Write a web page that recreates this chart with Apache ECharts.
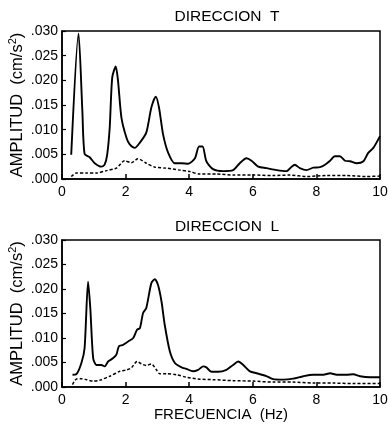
<!DOCTYPE html>
<html><head><meta charset="utf-8">
<script src="https://cdn.jsdelivr.net/npm/echarts@6/dist/echarts.min.js"></script>
<style>html,body{margin:0;padding:0;background:#fff}#c{width:389px;height:430px}</style>
</head><body><div id="c"></div>
<script>
// Dirección T — solid (top curve)
const tSolidF = [0.29,0.52,0.64,0.71,0.87,1.03,1.24,1.34,1.42,1.50,1.58,1.69,1.76,1.87,2.03,2.13,2.29,2.44,2.65,2.81,2.95,3.05,3.18,3.34,3.55,3.76,3.97,4.18,4.31,4.42,4.54,4.75,5.07,5.38,5.59,5.80,5.96,6.17,6.43,6.75,7.06,7.22,7.32,7.48,7.69,7.90,8.11,8.27,8.43,8.58,8.74,8.90,9.06,9.27,9.48,9.63,9.79,10.0];
const tSolidA = [0.0049,0.0295,0.0138,0.0051,0.0044,0.0032,0.0025,0.0029,0.0049,0.0104,0.0206,0.0228,0.0200,0.0124,0.0083,0.0070,0.0063,0.0073,0.0094,0.0145,0.0167,0.0145,0.0090,0.0053,0.0032,0.0032,0.0031,0.0042,0.0066,0.0066,0.0036,0.0020,0.0016,0.0018,0.0032,0.0042,0.0037,0.0025,0.0022,0.0018,0.0016,0.0025,0.0029,0.0022,0.0018,0.0023,0.0024,0.0029,0.0037,0.0046,0.0046,0.0037,0.0036,0.0032,0.0036,0.0053,0.0063,0.0087];
// Dirección T — dashed
const tDashF = [0.29,0.45,0.77,1.08,1.40,1.71,1.97,2.18,2.39,2.65,2.92,3.28,3.70,4.02,4.33,4.86,5.38,6.01,6.64,7.17,7.69,8.32,8.95,9.58,10.0];
const tDashA = [0.0005,0.0012,0.0012,0.0012,0.0017,0.0022,0.0037,0.0033,0.0041,0.0032,0.0024,0.0022,0.0018,0.0015,0.0010,0.0010,0.0008,0.0008,0.0007,0.0008,0.0005,0.0007,0.0007,0.0005,0.0006];
// Dirección L — solid
const lSolidF = [0.33,0.45,0.61,0.71,0.82,0.89,0.98,1.08,1.24,1.34,1.45,1.61,1.71,1.79,1.92,2.08,2.24,2.36,2.45,2.55,2.65,2.81,2.92,3.02,3.13,3.23,3.39,3.55,3.76,3.91,4.12,4.28,4.44,4.54,4.70,4.91,5.17,5.38,5.54,5.70,5.91,6.12,6.43,6.64,6.96,7.27,7.59,7.90,8.22,8.43,8.64,8.95,9.16,9.37,9.69,10.0];
const lSolidA = [0.0025,0.0026,0.0049,0.0079,0.0215,0.0161,0.0059,0.0045,0.0045,0.0042,0.0052,0.0059,0.0066,0.0083,0.0086,0.0093,0.0100,0.0117,0.0120,0.0151,0.0161,0.0212,0.0220,0.0208,0.0174,0.0127,0.0073,0.0049,0.0040,0.0037,0.0032,0.0035,0.0042,0.0040,0.0031,0.0031,0.0035,0.0045,0.0052,0.0045,0.0032,0.0028,0.0022,0.0016,0.0015,0.0017,0.0022,0.0025,0.0025,0.0028,0.0025,0.0025,0.0026,0.0022,0.0020,0.0020];
// Dirección L — dashed
const lDashF = [0.33,0.45,0.61,0.77,0.98,1.19,1.50,1.82,2.03,2.18,2.36,2.50,2.65,2.81,2.97,3.07,3.28,3.60,3.91,4.33,4.75,5.38,6.01,6.64,7.27,7.90,8.53,9.16,10.0];
const lDashA = [0.0005,0.0016,0.0017,0.0015,0.0012,0.0014,0.0022,0.0032,0.0035,0.0039,0.0052,0.0047,0.0044,0.0047,0.0035,0.0027,0.0027,0.0025,0.0020,0.0016,0.0015,0.0013,0.0012,0.0010,0.0010,0.0008,0.0008,0.0007,0.0007];

const titles = ['DIRECCION  T', 'DIRECCION  L'];
const yTickLabels = ['.000','.005','.010','.015','.020','.025','.030'];
const xTickLabels = ['0','2','4','6','8','10'];
const yName = '{n|AMPLITUD  (cm/s}{s|2}{n|)}';
const xName = 'FRECUENCIA  (Hz)';

const zip = (f, a) => f.map((v, i) => [v, a[i]]);
const FONT = 'Liberation Sans, Arial, sans-serif';

const grids = [
  {left: 62, top: 31, width: 318, height: 148},
  {left: 62, top: 240, width: 318, height: 147}
].map(g => Object.assign(g, {show: true, borderColor: '#000', borderWidth: 1.5, backgroundColor: 'transparent', containLabel: false, outerBoundsMode: 'none'}));

function xAxis(i, withName) {
  return {
    type: 'value', gridIndex: i, min: 0, max: 10, interval: 2,
    axisLine: {show: true, onZero: false, lineStyle: {color: '#000', width: 1.5}},
    axisTick: {show: true, inside: true, length: 5, lineStyle: {color: '#000', width: 1.5}},
    axisLabel: {color: '#000', fontSize: 14, fontFamily: FONT, margin: 6,
      formatter: v => xTickLabels[Math.round(v / 2)]},
    splitLine: {show: false},
    name: withName ? xName : '', nameLocation: 'middle', nameGap: 20, nameMoveOverlap: false,
    nameTextStyle: {color: '#000', fontSize: 15, fontFamily: FONT}
  };
}
function yAxis(i) {
  return {
    type: 'value', gridIndex: i, min: 0, max: 0.03, interval: 0.005,
    axisLine: {show: true, lineStyle: {color: '#000', width: 1.5}},
    axisTick: {show: true, inside: true, length: 4, lineStyle: {color: '#000', width: 1.2}},
    axisLabel: {color: '#000', fontSize: 14, fontFamily: FONT, margin: 4,
      formatter: v => yTickLabels[Math.round(v / 0.005)]},
    splitLine: {show: false},
    name: yName, nameLocation: 'middle', nameRotate: 90, nameGap: 35, nameMoveOverlap: false,
    nameTextStyle: {color: '#000', fontFamily: FONT,
      rich: {
        n: {fontSize: 16.5, fontFamily: FONT, color: '#000', lineHeight: 20},
        s: {fontSize: 11, fontFamily: FONT, color: '#000', verticalAlign: 'top', lineHeight: 20, padding: [0, 0, 7, 0]}
      }}
  };
}
function series(i, f, a, dashed) {
  return {
    type: 'line', xAxisIndex: i, yAxisIndex: i, data: zip(f, a),
    showSymbol: false, smooth: 0.25, animation: false,
    lineStyle: {color: '#000', width: dashed ? 1.5 : 1.9, type: dashed ? [3, 2] : 'solid'}
  };
}

const chart = echarts.init(document.getElementById('c'), null, {renderer: 'canvas'});
chart.setOption({
  backgroundColor: '#fff',
  animation: false,
  title: [
    {text: titles[0], left: 222, top: 4, textAlign: 'center', textStyle: {color: '#000', fontSize: 15.5, fontWeight: 'normal', fontFamily: FONT}},
    {text: titles[1], left: 222, top: 214, textAlign: 'center', textStyle: {color: '#000', fontSize: 15.5, fontWeight: 'normal', fontFamily: FONT}}
  ],
  grid: grids,
  xAxis: [xAxis(0, false), xAxis(1, true)],
  yAxis: [yAxis(0), yAxis(1)],
  series: [
    series(0, tSolidF, tSolidA, false),
    series(0, tDashF, tDashA, true),
    series(1, lSolidF, lSolidA, false),
    series(1, lDashF, lDashA, true)
  ]
});
</script></body></html>
